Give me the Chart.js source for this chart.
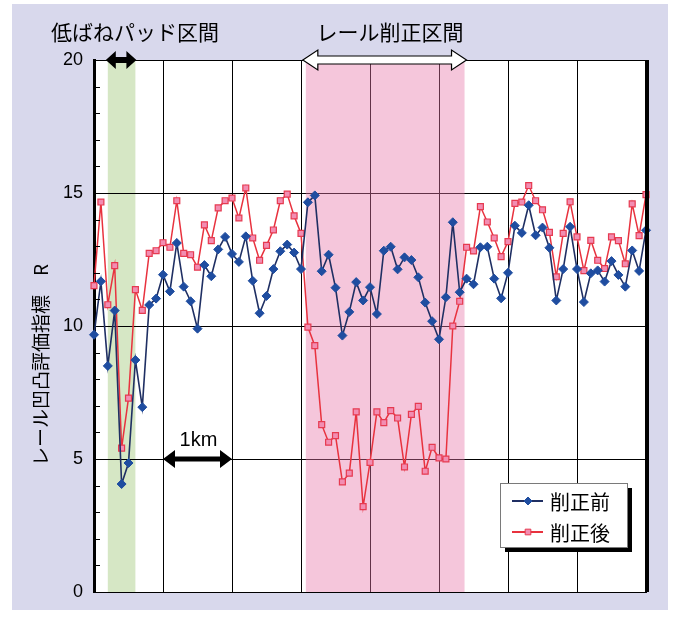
<!DOCTYPE html>
<html lang="ja">
<head>
<meta charset="UTF-8">
<title>レール凹凸評価指標 R</title>
<script src="https://cdn.jsdelivr.net/npm/chart.js@4.4.0/dist/chart.umd.min.js"></script>
<style>
  body { margin: 0; background: #fff; }
  #wrap { position: relative; width: 680px; height: 621px; }
</style>
</head>
<body>
<div id="wrap"><canvas id="chart"></canvas></div>
<script>
// distance along the track, km (one point every 100 m)
const km = [
  0.0, 0.1, 0.2, 0.3, 0.4, 0.5, 0.6, 0.7, 0.8, 0.9,
  1.0, 1.1, 1.2, 1.3, 1.4, 1.5, 1.6, 1.7, 1.8, 1.9,
  2.0, 2.1, 2.2, 2.3, 2.4, 2.5, 2.6, 2.7, 2.8, 2.9,
  3.0, 3.1, 3.2, 3.3, 3.4, 3.5, 3.6, 3.7, 3.8, 3.9,
  4.0, 4.1, 4.2, 4.3, 4.4, 4.5, 4.6, 4.7, 4.8, 4.9,
  5.0, 5.1, 5.2, 5.3, 5.4, 5.5, 5.6, 5.7, 5.8, 5.9,
  6.0, 6.1, 6.2, 6.3, 6.4, 6.5, 6.6, 6.7, 6.8, 6.9,
  7.0, 7.1, 7.2, 7.3, 7.4, 7.5, 7.6, 7.7, 7.8, 7.9,
  8.0
];

// 削正前
const beforeGrinding = [
  9.67, 11.68, 8.5, 10.58, 4.06, 4.85, 8.72, 6.95, 10.79, 11.03,
  11.93, 11.3, 13.12, 11.48, 10.93, 9.9, 12.29, 11.87, 12.88, 13.35,
  12.71, 12.41, 13.37, 11.7, 10.48, 11.13, 12.14, 12.81, 13.06, 12.76,
  12.14, 14.65, 14.91, 12.06, 12.68, 11.44, 9.64, 10.53, 11.65, 10.96,
  11.46, 10.45, 12.83, 12.98, 12.13, 12.58, 12.48, 11.83, 10.88, 10.18,
  9.5, 11.08, 13.9, 11.27, 11.78, 11.57, 12.96, 12.98, 11.78, 11.04,
  12.0, 13.77, 13.5, 14.54, 13.41, 13.7, 12.94, 10.96, 12.14, 13.73,
  12.14, 10.9, 11.98, 12.09, 11.67, 12.44, 11.92, 11.48, 12.84, 12.07,
  13.6
];

// 削正後
const afterGrinding = [
  11.52, 14.66, 10.8, 12.27, 5.41, 7.29, 11.37, 10.59, 12.73, 12.83,
  13.13, 12.96, 14.71, 12.73, 12.68, 12.21, 13.8, 13.21, 14.44, 14.71,
  14.81, 14.06, 15.19, 13.31, 12.47, 13.03, 13.61, 14.71, 14.96, 14.14,
  13.48, 9.96, 9.26, 6.29, 5.63, 5.88, 4.14, 4.47, 6.77, 3.21,
  4.87, 6.77, 6.37, 6.82, 6.54, 4.7, 6.68, 6.98, 4.54, 5.44,
  5.04, 5.0, 10.0, 10.93, 12.96, 12.82, 14.49, 13.91, 13.31, 12.61,
  13.17, 14.61, 14.66, 15.28, 14.71, 14.37, 13.52, 11.85, 13.48, 14.67,
  13.35, 12.08, 13.22, 12.47, 12.16, 13.35, 13.21, 12.34, 14.59, 13.4,
  14.94
];

const seriesNames = ['削正前', '削正後'];
const yTicks = [0, 5, 10, 15, 20];
const lowSpringZone = [0.2, 0.6];   // 低ばねパッド区間 (km)
const grindZone = [3.07, 5.37];     // レール削正区間 (km)
const scaleBar = [1, 2];            // 1km

const JP = '"Noto Sans CJK JP", "Noto Sans", sans-serif';
const LAT = '"Liberation Sans", Arial, sans-serif';
const BLUE_LINE = '#1f2f63', BLUE_PT = '#1f4da0';
const RED_LINE = '#e8323e', RED_PT = '#f28db2', RED_EDGE = '#e63a50';

function doubleArrow(ctx, x0, x1, y, head, half, shaft) {
  ctx.beginPath();
  ctx.moveTo(x0, y);
  ctx.lineTo(x0 + head, y - half);
  ctx.lineTo(x0 + head, y - shaft);
  ctx.lineTo(x1 - head, y - shaft);
  ctx.lineTo(x1 - head, y - half);
  ctx.lineTo(x1, y);
  ctx.lineTo(x1 - head, y + half);
  ctx.lineTo(x1 - head, y + shaft);
  ctx.lineTo(x0 + head, y + shaft);
  ctx.lineTo(x0 + head, y + half);
  ctx.closePath();
}

const decor = {
  id: 'decor',
  beforeDraw(chart) {
    const { ctx, chartArea: a, scales: { x } } = chart;
    ctx.save();
    ctx.fillStyle = '#d8d8ec';
    ctx.fillRect(12, 4, 656, 606);
    ctx.fillStyle = '#fff';
    ctx.fillRect(a.left, a.top, a.right - a.left, a.bottom - a.top);
    const g0 = x.getPixelForValue(lowSpringZone[0]);
    const g1 = x.getPixelForValue(lowSpringZone[1]);
    ctx.fillStyle = '#d6e7c5';
    ctx.fillRect(g0, a.top, g1 - g0, a.bottom - a.top);
    ctx.restore();
  },
  beforeDatasetsDraw(chart) {
    // translucent so the grid shows through darker, as in the original
    const { ctx, chartArea: a, scales: { x } } = chart;
    const p0 = x.getPixelForValue(grindZone[0]);
    const p1 = x.getPixelForValue(grindZone[1]);
    ctx.save();
    ctx.fillStyle = 'rgba(231, 119, 170, 0.42)';
    ctx.fillRect(p0, a.top, p1 - p0, a.bottom - a.top);
    ctx.restore();
  },
  afterDraw(chart) {
    const { ctx, chartArea: a, scales: { x, y } } = chart;
    ctx.save();

    // thick right frame
    ctx.strokeStyle = '#000';
    ctx.lineWidth = 4;
    ctx.beginPath();
    ctx.moveTo(a.right + 1, a.top);
    ctx.lineTo(a.right + 1, a.bottom);
    ctx.stroke();

    // minor ticks on the left axis
    ctx.lineWidth = 1;
    for (let v = 1; v < 20; v++) {
      if (v % 5 === 0) continue;
      const py = Math.round(y.getPixelForValue(v)) + 0.5;
      ctx.beginPath();
      ctx.moveTo(a.left, py);
      ctx.lineTo(a.left + 6, py);
      ctx.stroke();
    }

    // zone arrows
    ctx.fillStyle = '#000';
    doubleArrow(ctx, x.getPixelForValue(lowSpringZone[0]) - 2, x.getPixelForValue(lowSpringZone[1]) + 1, a.top, 10, 9, 3);
    ctx.fill();
    doubleArrow(ctx, x.getPixelForValue(grindZone[0]) - 3, x.getPixelForValue(grindZone[1]) + 2, a.top, 15, 10, 4);
    ctx.fillStyle = '#fff';
    ctx.fill();
    ctx.lineWidth = 1.2;
    ctx.strokeStyle = '#000';
    ctx.stroke();

    // 1km scale bar
    ctx.fillStyle = '#000';
    doubleArrow(ctx, x.getPixelForValue(scaleBar[0]), x.getPixelForValue(scaleBar[1]), y.getPixelForValue(5), 12, 9, 2.5);
    ctx.fill();
    ctx.font = '20px ' + LAT;
    ctx.textAlign = 'center';
    ctx.textBaseline = 'middle';
    ctx.fillText('1km', (x.getPixelForValue(scaleBar[0]) + x.getPixelForValue(scaleBar[1])) / 2 + 1, y.getPixelForValue(5) - 19);

    // zone captions
    ctx.font = '21px ' + JP;
    ctx.fillText('低ばねパッド区間', 135, 32);
    ctx.fillText('レール削正区間', 390, 32);

    // y axis title
    ctx.save();
    ctx.translate(41, 365);
    ctx.rotate(-Math.PI / 2);
    ctx.font = '19px ' + JP;
    ctx.fillText('レール凹凸評価指標　R', 0, 0);
    ctx.restore();

    // legend box
    const lx = 500, ly = 483, lw = 127, lh = 64;
    ctx.fillStyle = '#000';
    ctx.fillRect(lx + 5, ly + 5, lw, lh);
    ctx.fillStyle = '#fff';
    ctx.fillRect(lx, ly, lw, lh);
    ctx.strokeStyle = '#7a7a7a';
    ctx.lineWidth = 1;
    ctx.strokeRect(lx + 0.5, ly + 0.5, lw, lh);
    const rows = [
      { name: seriesNames[0], line: BLUE_LINE, fill: BLUE_PT, edge: BLUE_PT, style: 'rectRot', y: ly + 18 },
      { name: seriesNames[1], line: RED_LINE, fill: RED_PT, edge: RED_EDGE, style: 'rect', y: ly + 49 }
    ];
    rows.forEach(r => {
      ctx.strokeStyle = r.line;
      ctx.lineWidth = 2;
      ctx.beginPath();
      ctx.moveTo(lx + 12, r.y);
      ctx.lineTo(lx + 43, r.y);
      ctx.stroke();
      ctx.fillStyle = r.fill;
      ctx.strokeStyle = r.edge;
      ctx.lineWidth = 1;
      Chart.helpers.drawPoint(ctx, { pointStyle: r.style, radius: 4, rotation: 0, borderWidth: 1 }, lx + 28, r.y);
      ctx.fillStyle = '#000';
      ctx.font = '20px ' + JP;
      ctx.textAlign = 'left';
      ctx.fillText(r.name, lx + 50, r.y + 1);
    });

    ctx.restore();
  }
};

new Chart(document.getElementById('chart'), {
  type: 'line',
  data: {
    labels: km,
    datasets: [
      {
        label: seriesNames[0],
        data: km.map((k, i) => ({ x: k, y: beforeGrinding[i] })),
        borderColor: BLUE_LINE,
        borderWidth: 1.6,
        pointStyle: 'rectRot',
        pointRadius: 4.5,
        pointBackgroundColor: BLUE_PT,
        pointBorderColor: BLUE_PT,
        pointBorderWidth: 1,
        tension: 0,
        clip: false
      },
      {
        label: seriesNames[1],
        data: km.map((k, i) => ({ x: k, y: afterGrinding[i] })),
        borderColor: RED_LINE,
        borderWidth: 1.5,
        pointStyle: 'rect',
        pointRadius: 4.2,
        pointBackgroundColor: RED_PT,
        pointBorderColor: RED_EDGE,
        pointBorderWidth: 1.2,
        tension: 0,
        clip: false
      }
    ]
  },
  options: {
    responsive: true,
    maintainAspectRatio: false,
    animation: false,
    layout: { padding: { top: 60, right: 34, bottom: 29, left: 0 } },
    plugins: { legend: { display: false }, tooltip: { enabled: false } },
    scales: {
      x: {
        type: 'linear',
        min: 0,
        max: 8,
        ticks: { display: false, stepSize: 1 },
        grid: { color: '#000', lineWidth: 1, drawTicks: false },
        border: { color: '#000', width: 1 },
        afterFit: s => { s.height = 0; }
      },
      y: {
        min: 0,
        max: 20,
        afterBuildTicks: s => { s.ticks = yTicks.map(v => ({ value: v })); },
        ticks: { color: '#000', font: { family: LAT, size: 18 }, padding: 11 },
        grid: { color: '#000', lineWidth: 1, drawTicks: false },
        border: { color: '#000', width: 3 },
        afterFit: s => { s.width = 94; }
      }
    }
  },
  plugins: [decor]
});
</script>
</body>
</html>
